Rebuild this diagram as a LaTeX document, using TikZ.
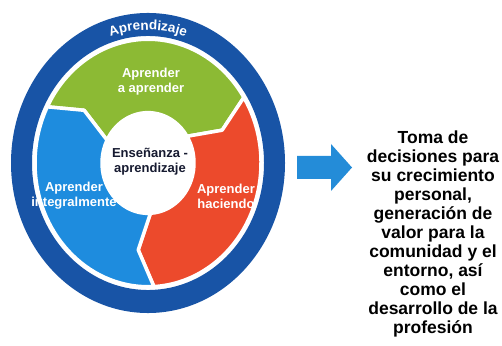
\documentclass[tikz,border=0pt]{standalone}
\usepackage{fontspec}
\setmainfont{Liberation Sans}
\usetikzlibrary{decorations.text}
\definecolor{ringblue}{RGB}{24, 84, 166}
\definecolor{segblue}{RGB}{30, 140, 222}
\definecolor{seggreen}{RGB}{140, 186, 52}
\definecolor{segred}{RGB}{236, 74, 44}
\definecolor{arrowblue}{RGB}{36, 140, 216}
\definecolor{textnavy}{RGB}{22, 26, 48}
\tikzset{
  segment/.style={
    fill=#1,
    draw=white,
    line width=3.5pt,
    line join=round
  },
  seglabel/.style={
    text=white,
    font=\bfseries\fontsize{13}{15}\selectfont,
    align=center,
    inner sep=0pt
  },
  corelabel/.style={
    seglabel,
    text=textnavy
  },
  outtext/.style={
    text=black,
    font=\bfseries\fontsize{17.5}{19}\selectfont,
    align=center,
    inner sep=0pt
  }
}
% one arrow-shaped piece of the ring: tail angle, head angle
\newcommand{\segpath}[2]{(#1:113) arc[start angle=#1, end angle=#2, radius=113]
  -- (#2-10:80) -- (#2:46) arc[start angle=#2, end angle=#1, radius=46]
  -- (#1-10:80) -- cycle}

\begin{document}
\begin{tikzpicture}[x=1pt, y=1pt]
  \useasboundingbox (0,0) rectangle (502,345);

  \begin{scope}[shift={(148,182)}, yscale=1.095]
    \fill[ringblue, even odd rule] (0,0) circle[radius=137] (0,0) circle[radius=116];
    \path[decorate, decoration={text along path, text align=center,
        text={|\bfseries\fontsize{13.5}{13.5}\selectfont\color{white}|Aprendizaje}}]
      (150:121.5) arc[start angle=150, end angle=30, radius=121.5];
    \draw[segment=seggreen] \segpath{153}{32};
    \draw[segment=segred] \segpath{32}{-87};
    \draw[segment=segblue] \segpath{273}{153};
  \end{scope}

  \node[seglabel] (green) at (151,263) {Aprender\\a aprender};
  \node[corelabel] (core) at (150,183) {Enseñanza -\\aprendizaje};
  \node[seglabel] (blue) at (74,149) {Aprender\\integralmente};
  \node[seglabel] (red) at (226,149) {Aprender\\haciendo};

  \fill[arrowblue] (297,189) -- (331,189) -- (331,201) -- (352,177.5)
    -- (331,154) -- (331,166) -- (297,166) -- cycle;

  \node[outtext] (outcome) at (433,111) {Toma de\\decisiones para\\su crecimiento\\personal,\\generación de\\valor para la\\comunidad y el\\entorno, así\\como el\\desarrollo de la\\profesión};
\end{tikzpicture}
\end{document}
